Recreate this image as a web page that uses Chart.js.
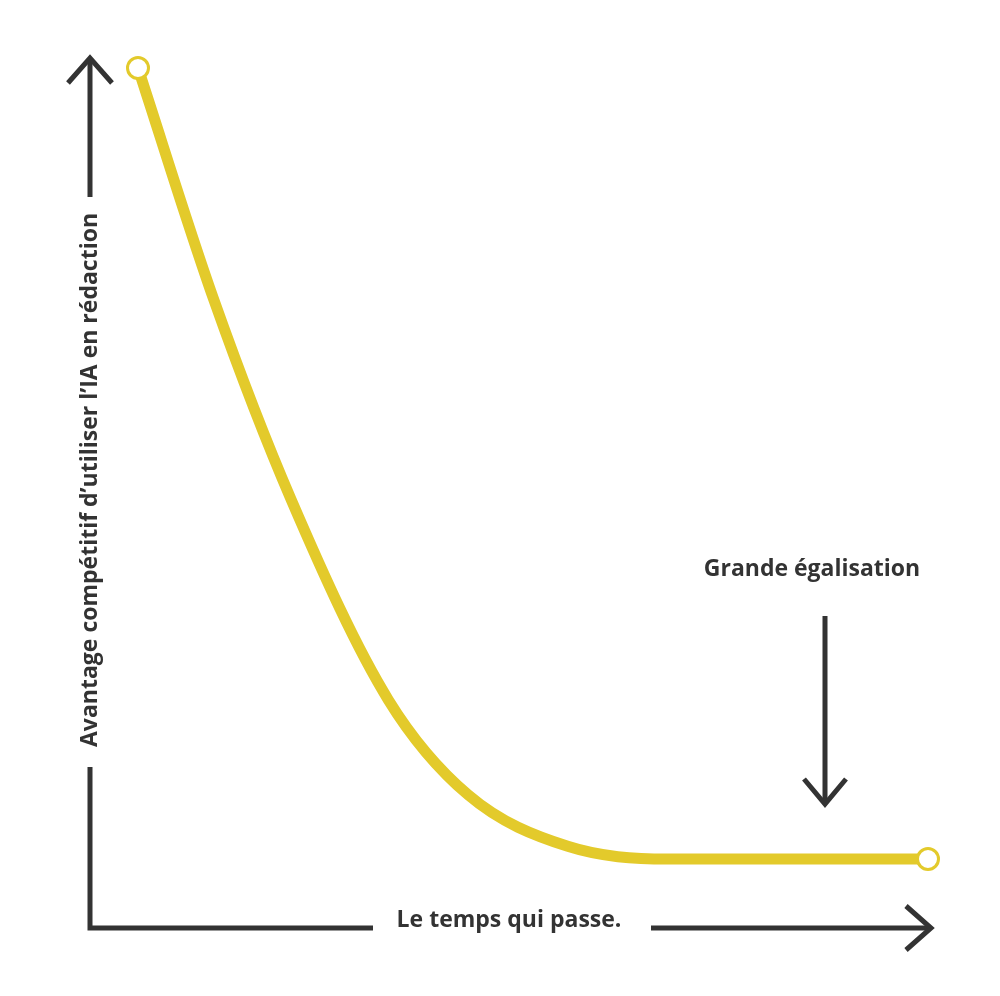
<!DOCTYPE html>
<html>
<head>
<meta charset="utf-8">
<script src="https://cdn.jsdelivr.net/npm/chart.js@4.4.1/dist/chart.umd.min.js"></script>
<style>
  html, body { margin: 0; padding: 0; background: #ffffff; }
  #wrap { position: relative; width: 1000px; height: 996px; }
</style>
</head>
<body>
<div id="wrap"><canvas id="c"></canvas></div>
<script>
// ---- Data ----
const timeValues      = [0, 9.6, 19.4, 31.7, 41.8, 54.4, 67.1, 100];
const advantageValues = [100, 70.7, 45.4, 20.1, 8.1, 1.6, 0, 0];
const xAxisLabel = "Le temps qui passe.";
const yAxisLabel = "Avantage compétitif d’utiliser l’IA en rédaction";
const annotationLabel = "Grande égalisation";

const INK = "#333333";
const YELLOW = "#E3CA2B";
const FONT = "700 23px 'Open Sans', 'Noto Sans', sans-serif";

const points = timeValues.map((t, i) => ({ x: t, y: advantageValues[i] }));
const lastIndex = points.length - 1;

function arrowHead(ctx, tipX, tipY, dir, back, half) {
  ctx.beginPath();
  if (dir === "up") {
    ctx.moveTo(tipX - half, tipY + back); ctx.lineTo(tipX, tipY); ctx.lineTo(tipX + half, tipY + back);
  } else if (dir === "down") {
    ctx.moveTo(tipX - half, tipY - back); ctx.lineTo(tipX, tipY); ctx.lineTo(tipX + half, tipY - back);
  } else {
    ctx.moveTo(tipX - back, tipY - half); ctx.lineTo(tipX, tipY); ctx.lineTo(tipX - back, tipY + half);
  }
  ctx.stroke();
}

const decorPlugin = {
  id: "decor",
  beforeDatasetsDraw(chart) {
    const ctx = chart.ctx;
    const a = chart.chartArea;
    ctx.save();
    ctx.strokeStyle = INK;
    ctx.lineWidth = 5;
    ctx.lineCap = "butt";
    ctx.lineJoin = "miter";
    const axisX = a.left - 48;     // y-axis line
    const axisY = a.bottom + 69;   // x-axis line
    // Y axis: upper segment with arrow, lower segment to the corner
    ctx.beginPath();
    ctx.moveTo(axisX, a.top - 9); ctx.lineTo(axisX, 197);
    ctx.moveTo(axisX, 767); ctx.lineTo(axisX, axisY + 2.5);
    // X axis: left segment from corner, right segment to arrow
    ctx.moveTo(axisX - 2.5, axisY); ctx.lineTo(373, axisY);
    ctx.moveTo(651, axisY); ctx.lineTo(a.right + 3, axisY);
    ctx.stroke();
    arrowHead(ctx, axisX, a.top - 10, "up", 25, 22);
    arrowHead(ctx, a.right + 3, axisY, "right", 25, 22);
    // Annotation arrow
    ctx.beginPath();
    ctx.moveTo(825, 616); ctx.lineTo(825, 803);
    ctx.stroke();
    arrowHead(ctx, 825, 804, "down", 25, 21);

    // Texts
    ctx.fillStyle = INK;
    ctx.font = FONT;
    ctx.textAlign = "center";
    ctx.textBaseline = "middle";
    ctx.fillText(xAxisLabel, 509, 920);
    ctx.fillText(annotationLabel, 812, 569);
    ctx.save();
    ctx.translate(axisX, 480);
    ctx.rotate(-Math.PI / 2);
    ctx.fillText(yAxisLabel, 0, 0);
    ctx.restore();
    ctx.restore();
  }
};

new Chart(document.getElementById("c"), {
  type: "line",
  data: {
    datasets: [{
      data: points,
      borderColor: YELLOW,
      borderWidth: 11,
      cubicInterpolationMode: "monotone",
      fill: false,
      clip: false,
      borderCapStyle: "round",
      pointRadius: (c) => (c.dataIndex === 0 || c.dataIndex === lastIndex) ? 10.5 : 0,
      pointHoverRadius: 0,
      pointBackgroundColor: "#ffffff",
      pointBorderColor: YELLOW,
      pointBorderWidth: 3
    }]
  },
  options: {
    responsive: true,
    maintainAspectRatio: false,
    animation: false,
    layout: { padding: { left: 138, right: 72, top: 68, bottom: 137 } },
    plugins: { legend: { display: false }, tooltip: { enabled: false } },
    scales: {
      x: { type: "linear", min: 0, max: 100, display: false },
      y: { type: "linear", min: 0, max: 100, display: false }
    }
  },
  plugins: [decorPlugin]
});
</script>
</body>
</html>
